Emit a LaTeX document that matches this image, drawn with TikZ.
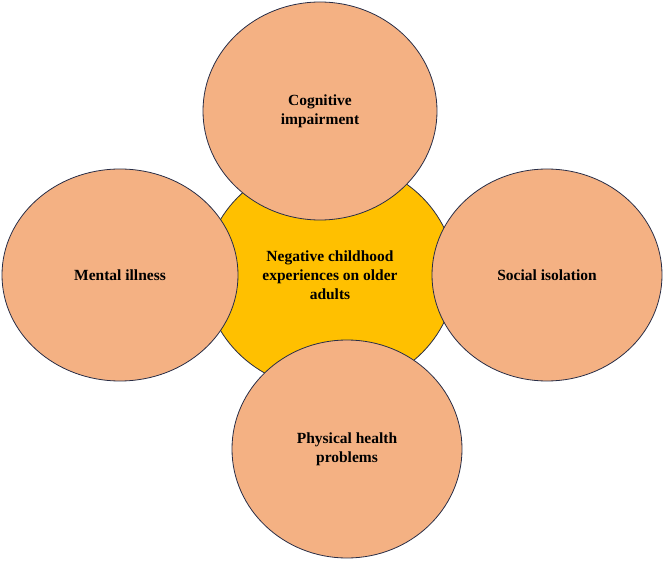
\documentclass[tikz,border=0pt]{standalone}
\usepackage{fontspec}
\setmainfont{Liberation Serif}
\definecolor{gold}{RGB}{255,192,0}
\definecolor{salmon}{RGB}{244,177,131}
\definecolor{edge}{RGB}{40,45,70}
\begin{document}
\begin{tikzpicture}[x=1pt,y=-1pt,
  circ/.style={draw=edge,line width=0.8pt,fill=#1},
  lbl/.style={align=center,font=\bfseries\fontsize{15.5}{19}\selectfont}]
\useasboundingbox (0,0) rectangle (664,561);
\draw[circ=gold] (330,275) ellipse [x radius=125,y radius=115];
\node[lbl] (c) at (330,275) {Negative childhood\\experiences on older\\adults};
\foreach \n/\x/\y/\rx/\ry/\t in {t/320/111/117/109/{Cognitive\\impairment},l/120/275/118/106/{Mental illness},r/547/275/115/106/{Social isolation},b/347/449/115/109/{Physical health\\problems}}{
  \draw[circ=salmon] (\x,\y) ellipse [x radius=\rx,y radius=\ry];
  \node[lbl] (\n) at (\x,\y) {\t};
}
\end{tikzpicture}
\end{document}
